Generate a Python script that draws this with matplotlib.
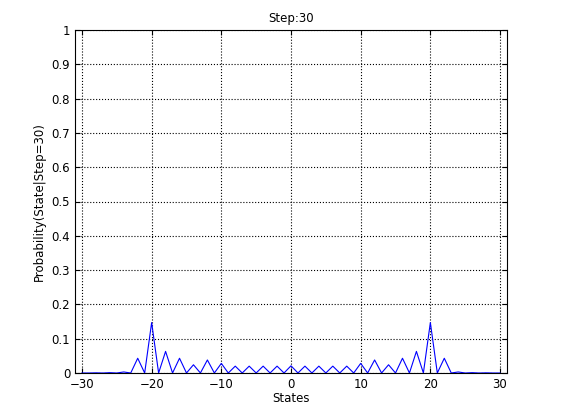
import numpy as np
import matplotlib.pyplot as plt

states = np.arange(-30, 31)
# probability at even distances from the origin, 0..30 (distribution is symmetric)
half = [0.021, 0.02, 0.02, 0.02, 0.02, 0.028, 0.038, 0.024, 0.043, 0.063,
        0.147, 0.043, 0.003, 0.001, 0.0005, 0.0]
prob = np.zeros(len(states))
for i, s in enumerate(states):
    if s % 2 == 0:
        prob[i] = half[abs(s) // 2]

fig = plt.figure(figsize=(5.61, 4.2), dpi=100)
ax = fig.add_axes([75/561, 1 - 373/420, 432/561, 343/420])
ax.plot(states, prob, color='#0000ff', linewidth=0.8)
ax.set_xlim(-31, 31)
ax.set_ylim(0, 1)
ax.set_xticks(range(-30, 31, 10))
ax.set_yticks(np.arange(0, 1.01, 0.1))
ax.set_yticklabels(['0', '0.1', '0.2', '0.3', '0.4', '0.5', '0.6', '0.7', '0.8', '0.9', '1'])
ax.grid(True, linestyle=':', color='black', linewidth=0.8)
ax.tick_params(direction='in', labelsize=8.5, top=True, right=True)
ax.set_xlabel('States', fontsize=8.5, labelpad=1)
ax.set_ylabel('Probability(State|Step=30)', fontsize=8.5)
ax.set_title('Step:30', fontsize=8.5)
fig.savefig('out.png')
